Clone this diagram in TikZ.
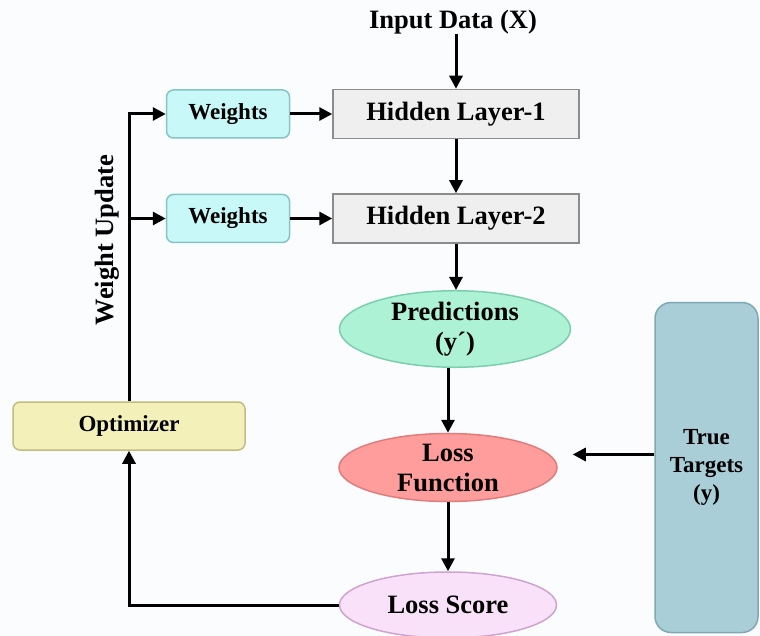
\documentclass[tikz,border=0pt]{standalone}
\usepackage{fontspec}
\setmainfont{Liberation Serif}
\usepackage{tikz}
\usetikzlibrary{shapes.geometric,arrows.meta,positioning}
\definecolor{bgcol}{HTML}{FBFCFE}
\definecolor{wtfill}{HTML}{C9F8F8}
\definecolor{wtdraw}{HTML}{86C4C6}
\definecolor{hlfill}{HTML}{EFEFEF}
\definecolor{hldraw}{HTML}{8C8C8C}
\definecolor{optfill}{HTML}{F3F0B9}
\definecolor{optdraw}{HTML}{C2BC80}
\definecolor{predfill}{HTML}{AEF2D6}
\definecolor{preddraw}{HTML}{7CCFAE}
\definecolor{lffill}{HTML}{FF9C9C}
\definecolor{lfdraw}{HTML}{E07C7C}
\definecolor{lsfill}{HTML}{F9E2F9}
\definecolor{lsdraw}{HTML}{CFA3CF}
\definecolor{ttfill}{HTML}{A9CED7}
\definecolor{ttdraw}{HTML}{7FA8B2}

\begin{document}
\begin{tikzpicture}[x=1pt, y=-1pt,
  every node/.style={font=\fontsize{26.5}{30}\selectfont\bfseries, align=center, inner sep=0pt},
  small/.style={font=\fontsize{23}{28}\selectfont\bfseries},
  wtbox/.style={rectangle, draw=wtdraw, fill=wtfill, line width=1.5pt, rounded corners=7pt, minimum width=123pt, minimum height=48pt, small},
  hlbox/.style={rectangle, draw=hldraw, fill=hlfill, line width=1.5pt, minimum width=246pt, minimum height=49pt},
  oval/.style={ellipse, line width=1.5pt, minimum width=#1, minimum height=68pt},
  arr/.style={-{Triangle[length=13pt,width=13pt]}, line width=3pt},
  link/.style={line width=3pt}]
\useasboundingbox[fill=bgcol] (0,0) rectangle (760,636);

\node (input) at (453,22) {Input Data (X)};
\node[hlbox] (hl1) at (456,114) {Hidden Layer-1};
\node[hlbox, below=54pt of hl1] (hl2) {Hidden Layer-2};
\node[wtbox, left=42pt of hl1] (wt1) {Weights};
\node[wtbox, left=42pt of hl2] (wt2) {Weights};
\node[oval=231pt, draw=preddraw, fill=predfill] (pred) at (455,329) {Predictions\\(y´)};
\node[oval=218pt, draw=lfdraw, fill=lffill] (lf) at (448,467.5) {Loss\\Function};
\node[oval=217pt, minimum height=66pt, draw=lsdraw, fill=lsfill] (ls) at (448,605) {Loss Score};
\node[rectangle, draw=ttdraw, fill=ttfill, line width=1.5pt, rounded corners=16pt, minimum width=103pt, minimum height=330pt, small] (tt) at (706.5,467.5) {True\\Targets\\(y)};
\node[rectangle, draw=optdraw, fill=optfill, line width=1.5pt, rounded corners=7pt, minimum width=232pt, minimum height=48pt, small] (opt) at (129,426) {Optimizer};
\node[rotate=90] (wu) at (107,240) {Weight Update};

% forward pass
\draw[arr] (input.south -| hl1) -- (hl1);
\draw[arr] (hl1) -- (hl2);
\draw[arr] (hl2) -- (pred.north -| hl2);
\draw[arr] (pred.south -| lf) -- (lf);
\draw[arr] (lf) -- (ls);
\draw[arr] ([yshift=13pt]tt.west) -- ([yshift=13pt,xshift=15pt]lf.east);
\draw[arr] (wt1) -- (hl1);
\draw[arr] (wt2) -- (hl2);

% feedback loop
\draw[arr, line join=miter] (ls.west) -| (opt.south);
\draw[arr, line join=miter] (opt.north) |- (wt1.west);
\draw[arr] (opt.north |- wt2.west) -- (wt2.west);
\end{tikzpicture}
\end{document}
